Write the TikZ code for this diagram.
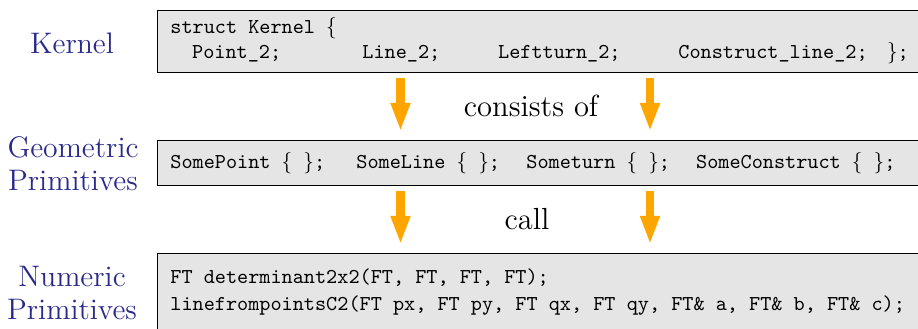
\documentclass[tikz,border=0pt]{standalone}
\usepackage{fontspec}
\usetikzlibrary{arrows.meta,fit}
\definecolor{labelblue}{RGB}{42,42,140}
\definecolor{boxgray}{RGB}{229,229,229}
\definecolor{arroworange}{RGB}{255,165,0}
\begin{document}
\begin{tikzpicture}[x=0.4717pt,y=-0.4717pt]

\tikzstyle{codebox}=[draw=black,fill=boxgray,line width=0.45pt,inner sep=0pt]
\tikzstyle{src}=[inner sep=0pt,anchor=base west,font=\ttfamily]
\tikzstyle{layer}=[align=center,text=labelblue,font=\fontsize{14}{15.6}\selectfont]
\tikzstyle{relation}=[inner sep=0pt,anchor=base,font=\fontsize{14.4}{15.6}\selectfont]
\tikzstyle{bigarrow}=[draw=arroworange,line width=3.8pt,shorten <=2.5pt,shorten >=3.8pt,-{Triangle[width=8.5pt,length=13.5pt]}]

\useasboundingbox (0,0) rectangle (918,328);
\clip (0,0) rectangle (918,328);

\node[codebox,fit={(157,10) (930,72)}] (kernel) {};
\node[codebox,fit={(157,140) (930,185)}] (geom) {};
\node[codebox,fit={(157,253) (930,340)}] (numeric) {};

\coordinate (colA) at (400.5,0);
\coordinate (colB) at (650,0);

\node[layer] (klabel) at (72,43) {Kernel};
\node[layer] (glabel) at (73,164) {Geometric\\Primitives};
\node[layer] (nlabel) at (72,293) {Numeric\\Primitives};

% kernel
\node[src] (kstruct) at (170,33) {struct Kernel $\{$};
\node[src] (kpoint) at (191.7,58.3) {Point\_2;};
\node[src] (kline) at (362,58.3) {Line\_2;};
\node[src] (kturn) at (497.7,58.3) {Leftturn\_2;};
\node[src] (kconstr) at (678,58.3) {Construct\_line\_2;};
\node[src] (kclose) at (886.7,58.3) {$\}$;};

% geometric primitives
\node[src] (gpoint) at (170,168.3) {SomePoint $\{\ \}$;};
\node[src] (gline) at (356,168.3) {SomeLine $\{\ \}$;};
\node[src] (gturn) at (526,168.3) {Someturn $\{\ \}$;};
\node[src] (gconstr) at (695.7,168.3) {SomeConstruct $\{\ \}$;};

% numeric primitives
\node[src] (ndet) at (170,283.5) {FT determinant2x2(FT, FT, FT, FT);};
\node[src] (nline) at (170,310.5) {linefrompointsC2(FT px, FT py, FT qx, FT qy, FT\& a, FT\& b, FT\& c);};

\node[relation] (consists) at (531,116) {consists of};
\node[relation] (call) at (527,229) {call};

\draw[bigarrow] (kernel.south -| colA) -- (geom.north -| colA);
\draw[bigarrow] (kernel.south -| colB) -- (geom.north -| colB);
\draw[bigarrow] (geom.south -| colA) -- (numeric.north -| colA);
\draw[bigarrow] (geom.south -| colB) -- (numeric.north -| colB);
\end{tikzpicture}
\end{document}
